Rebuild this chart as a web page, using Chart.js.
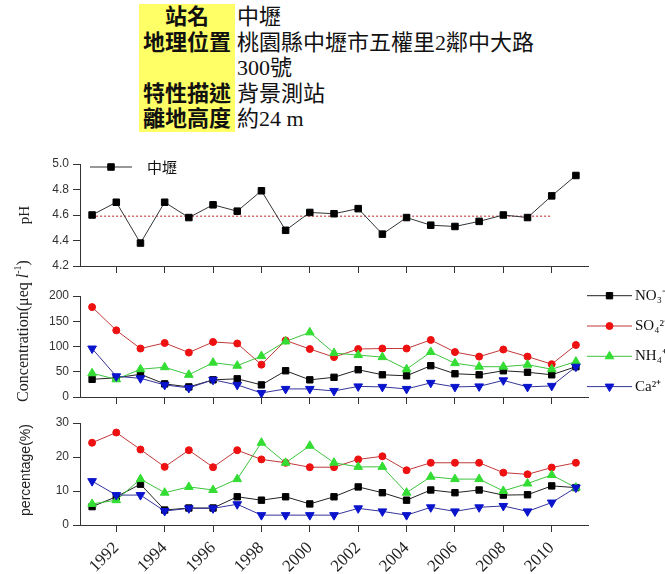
<!DOCTYPE html>
<html>
<head>
<meta charset="utf-8">
<script src="https://cdn.jsdelivr.net/npm/chart.js@4"></script>
<style>
  body { margin: 0; width: 665px; height: 574px; background: #fff; position: relative; overflow: hidden; }
  #info { position: absolute; left: 139px; top: 4px; border-collapse: collapse;
          font-family: "Liberation Serif", "Noto Sans CJK TC", serif; font-size: 22px; line-height: 25.5px; color: #111; }
  #info td { padding: 0; vertical-align: top; }
  #info td.k { background: #ffff66; font-weight: bold; text-align: center; width: 96px; }
  #info td.v { width: 300px; padding-left: 2px; }
  canvas { position: absolute; left: 0; }
  .ytitle { position: absolute; white-space: nowrap; color: #222;
            transform: translate(-50%, -50%) rotate(-90deg); }
</style>
</head>
<body>

<table id="info">
  <tr><td class="k">站名</td><td class="v">中壢</td></tr>
  <tr><td class="k">地理位置</td><td class="v">桃園縣中壢市五權里2鄰中大路300號</td></tr>
  <tr><td class="k">特性描述</td><td class="v">背景測站</td></tr>
  <tr><td class="k">離地高度</td><td class="v">約24 m</td></tr>
</table>

<canvas id="phChart" width="665" height="130" style="top:150px"></canvas>
<canvas id="concChart" width="665" height="130" style="top:280px"></canvas>
<canvas id="pctChart" width="665" height="164" style="top:410px"></canvas>

<div class="ytitle" style="left:24px; top:215px; font: 15px 'Liberation Serif', serif;">pH</div>
<div class="ytitle" style="left:22px; top:331px; font: 16px 'Liberation Serif', serif;">Concentration(μeq <i>l</i><sup style="font-size:10px">-1</sup>)</div>
<div class="ytitle" style="left:25px; top:470px; font: 14px 'Liberation Sans', sans-serif;">percentage(%)</div>

<script>
const years = [1991, 1992, 1993, 1994, 1995, 1996, 1997, 1998, 1999, 2000, 2001,
               2002, 2003, 2004, 2005, 2006, 2007, 2008, 2009, 2010, 2011];

// pH of rain at Zhongli
const phValues = [4.60, 4.70, 4.38, 4.70, 4.58, 4.68, 4.63, 4.79, 4.48, 4.62, 4.61,
                  4.65, 4.45, 4.58, 4.52, 4.51, 4.55, 4.60, 4.58, 4.75, 4.91];
const phMeanLine = [4.59, 4.59, 4.59, 4.59, 4.59, 4.59, 4.59, 4.59, 4.59, 4.59, 4.59,
                    4.59, 4.59, 4.59, 4.59, 4.59, 4.59, 4.59, 4.59, 4.59, null];

// concentration (ueq/l)
const no3Conc = [35, 38, 45, 26, 20, 34, 36, 24, 52, 34, 39, 54, 44, 42, 62, 46, 44, 52, 49, 44, 60];
const so4Conc = [178, 132, 96, 107, 88, 109, 106, 64, 112, 95, 79, 95, 96, 96, 113, 89, 80, 94, 80, 65, 103];
const nh4Conc = [47, 35, 55, 59, 44, 68, 62, 81, 110, 128, 87, 83, 79, 55, 89, 67, 60, 60, 64, 55, 70];
const caConc  = [96, 41, 37, 24, 18, 34, 24, 8, 16, 16, 12, 21, 20, 16, 28, 20, 21, 33, 20, 22, 60];

// percentage (%)
const no3Pct = [5.4, 8.3, 12, 4.4, 5, 5, 8.3, 7.3, 8.3, 6.2, 8.3, 11.2, 9.5, 7.3, 10.3, 9.5, 10.3, 8.8, 8.9, 11.5, 11];
const so4Pct = [24.2, 27.2, 22.2, 17.1, 22, 17, 22, 19.3, 18.3, 17, 17, 19.3, 20.2, 16.1, 18.3, 18.3, 18.3, 15.4, 14.9, 16.9, 18.3];
const nh4Pct = [6.2, 7.3, 13.5, 9.5, 11.2, 10.3, 13.5, 24.2, 18.3, 23.3, 18.3, 17.1, 17.1, 9.5, 14.2, 13.5, 13.5, 10, 12.2, 14.7, 11];
const caPct  = [12.9, 8.8, 8.8, 4.1, 4.9, 4.9, 6.1, 2.9, 2.9, 2.9, 2.9, 4.9, 4.0, 2.9, 5.2, 4, 5.2, 5.6, 4, 6.6, 11];

const stationLabel = '中壢';
const ionLabels = ['NO₃⁻', 'SO₄²⁻', 'NH₄⁺', 'Ca²⁺'];

const axisColor = '#333';

function toPoints(values) {
  return years.map((y, i) => ({ x: y, y: values[i] }));
}

// legend: short line with the marker in the middle, then the label
const lineLegend = {
  id: 'lineLegend',
  afterDraw(chart, args, opts) {
    const ctx = chart.ctx;
    let row = 0;
    chart.data.datasets.forEach(ds => {
      if (!ds.legendText) return;
      const y = opts.y + row * opts.gap;
      row++;
      ctx.save();
      ctx.strokeStyle = ds.borderColor;
      ctx.lineWidth = 1;
      ctx.beginPath();
      ctx.moveTo(opts.x, y);
      ctx.lineTo(opts.x + opts.len, y);
      ctx.stroke();
      ctx.fillStyle = ds.pointBackgroundColor;
      ctx.strokeStyle = ds.pointBorderColor;
      Chart.helpers.drawPoint(ctx, {
        pointStyle: ds.pointStyle, radius: ds.pointRadius,
        rotation: ds.pointRotation || 0, borderWidth: 1
      }, opts.x + opts.len / 2, y);
      ctx.fillStyle = '#111';
      ctx.font = opts.font;
      ctx.textBaseline = 'middle';
      ctx.fillText(ds.legendText, opts.x + opts.len + opts.textGap, y);
      ctx.restore();
    });
  }
};

function baseOptions(cfg) {
  return {
    responsive: false,
    animation: false,
    layout: { padding: { top: cfg.padTop, right: 77, left: 0, bottom: 0 } },
    plugins: {
      legend: { display: false },
      tooltip: { enabled: false },
      lineLegend: cfg.legend
    },
    scales: {
      x: {
        type: 'linear',
        min: 1990.5,
        max: 2011.5,
        border: { color: axisColor, width: 1 },
        grid: { drawOnChartArea: false, tickLength: 7, tickColor: axisColor },
        ticks: {
          stepSize: 2,
          includeBounds: false,
          autoSkip: false,
          display: cfg.showYears,
          maxRotation: 45,
          minRotation: 45,
          padding: 6,
          color: '#222',
          font: { family: 'Liberation Serif', size: 17 },
          callback: v => String(v)
        },
        afterFit(scale) { scale.height = cfg.xHeight; }
      },
      y: {
        min: cfg.yMin,
        max: cfg.yMax,
        border: { color: axisColor, width: 1 },
        grid: { drawOnChartArea: false, tickLength: 7, tickColor: axisColor },
        ticks: {
          stepSize: cfg.yStep,
          padding: 4,
          color: '#333',
          font: { family: 'Liberation Sans', size: 12 },
          callback: cfg.yFormat || (v => v)
        },
        afterFit(scale) { scale.width = 80; }
      }
    }
  };
}

const ionStyles = [
  { line: '#222222', fill: '#000000', style: 'rect', radius: 4.5, rot: 0 },
  { line: '#c03838', fill: '#ee1111', style: 'circle', radius: 3.5, rot: 0 },
  { line: '#3cc43c', fill: '#33dd33', style: 'triangle', radius: 5, rot: 0 },
  { line: '#34349a', fill: '#0a14cc', style: 'triangle', radius: 5, rot: 180 }
];

function ionDatasets(seriesList) {
  return seriesList.map((values, i) => ({
    legendText: ionLabels[i],
    data: toPoints(values),
    borderColor: ionStyles[i].line,
    borderWidth: 1,
    pointStyle: ionStyles[i].style,
    pointRadius: ionStyles[i].radius,
    pointRotation: ionStyles[i].rot,
    pointBackgroundColor: ionStyles[i].fill,
    pointBorderColor: ionStyles[i].fill,
    pointBorderWidth: 1,
    order: seriesList.length - i,
    clip: false
  }));
}

new Chart(document.getElementById('phChart'), {
  type: 'line',
  data: {
    datasets: [
      {
        legendText: stationLabel,
        data: toPoints(phValues),
        borderColor: '#333',
        borderWidth: 1,
        pointStyle: 'rect',
        pointRadius: 4.6,
        pointBackgroundColor: '#000',
        pointBorderColor: '#000',
        order: 1,
        clip: false
      },
      {
        data: toPoints(phMeanLine),
        borderColor: '#d46a6a',
        borderWidth: 1.5,
        borderDash: [2, 2],
        pointRadius: 0,
        order: 2
      }
    ]
  },
  options: baseOptions({
    padTop: 14, xHeight: 14, showYears: false,
    yMin: 4.2, yMax: 5.0, yStep: 0.2, yFormat: v => v.toFixed(1),
    legend: { x: 90, y: 17, gap: 0, len: 42, textGap: 15, font: '15px "Noto Sans CJK TC"' }
  }),
  plugins: [lineLegend]
});

new Chart(document.getElementById('concChart'), {
  type: 'line',
  data: { datasets: ionDatasets([no3Conc, so4Conc, nh4Conc, caConc]) },
  options: baseOptions({
    padTop: 16, xHeight: 13, showYears: false,
    yMin: 0, yMax: 200, yStep: 50,
    legend: { x: 587, y: 15.7, gap: 30.3, len: 45, textGap: 3, font: '15px "Liberation Serif"' }
  }),
  plugins: [lineLegend]
});

new Chart(document.getElementById('pctChart'), {
  type: 'line',
  data: { datasets: ionDatasets([no3Pct, so4Pct, nh4Pct, caPct]).map(d => Object.assign(d, { legendText: null })) },
  options: baseOptions({
    padTop: 13, xHeight: 49, showYears: true,
    yMin: 0, yMax: 30, yStep: 5,
    legend: { x: 0, y: 0, gap: 0, len: 0, textGap: 0, font: '12px sans-serif' }
  }),
  plugins: [lineLegend]
});
</script>
</body>
</html>
